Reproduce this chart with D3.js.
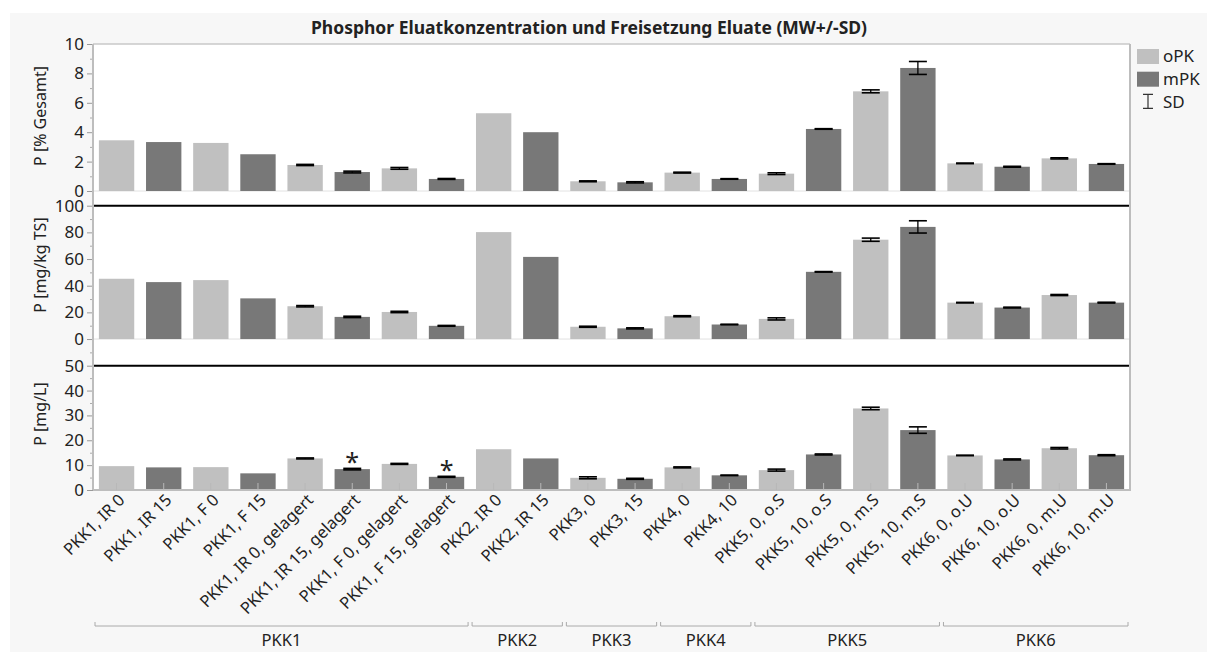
<!DOCTYPE html>
<html><head><meta charset="utf-8">
<script src="https://cdn.jsdelivr.net/npm/d3@7"></script>
<style>
html,body{margin:0;padding:0;background:#fff;}
text{font-family:"Noto Sans","Open Sans",sans-serif;fill:#222;}
</style></head>
<body>
<svg id="c" width="1207" height="660"></svg>
<script>
// ---------- data ----------
const categories = ["PKK1, IR 0","PKK1, IR 15","PKK1, F 0","PKK1, F 15","PKK1, IR 0, gelagert","PKK1, IR 15, gelagert","PKK1, F 0, gelagert","PKK1, F 15, gelagert","PKK2, IR 0","PKK2, IR 15","PKK3, 0","PKK3, 15","PKK4, 0","PKK4, 10","PKK5, 0, o.S","PKK5, 10, o.S","PKK5, 0, m.S","PKK5, 10, m.S","PKK6, 0, o.U","PKK6, 10, o.U","PKK6, 0, m.U","PKK6, 10, m.U"];
const series = ["oPK","mPK","oPK","mPK","oPK","mPK","oPK","mPK","oPK","mPK","oPK","mPK","oPK","mPK","oPK","mPK","oPK","mPK","oPK","mPK","oPK","mPK"];
const groups = ["PKK1","PKK2","PKK3","PKK4","PKK5","PKK6"];

const pctGesamt   = [3.45,3.33,3.27,2.5,1.77,1.29,1.54,0.82,5.29,4.0,0.66,0.59,1.25,0.82,1.18,4.22,6.78,8.37,1.88,1.65,2.22,1.84];
const pctGesamtSD = [null,null,null,null,0.04,0.06,0.06,0.03,null,null,0.03,0.04,0.03,0.02,0.06,0.02,0.10,0.44,0.02,0.03,0.04,0.02];
const mgKgTS      = [45.2,42.7,44.2,30.5,24.6,16.6,20.3,9.9,80.2,61.6,9.2,8.0,17.1,10.9,15.1,50.4,74.5,84.1,27.3,23.6,33.0,27.3];
const mgKgTSSD    = [null,null,null,null,0.5,0.5,0.5,0.3,null,null,0.4,0.4,0.4,0.2,0.8,0.2,1.2,4.6,0.2,0.3,0.4,0.3];
const mgL         = [9.6,9.1,9.2,6.7,12.7,8.4,10.5,5.3,16.4,12.7,4.9,4.5,9.1,5.9,8.0,14.3,32.8,24.1,13.9,12.3,16.8,14.0];
const mgLSD       = [null,null,null,null,0.2,0.3,0.2,0.2,null,null,0.4,0.2,0.2,0.1,0.4,0.2,0.5,1.3,0.1,0.2,0.3,0.2];
const starred     = ["PKK1, IR 15, gelagert","PKK1, F 15, gelagert"];

const title = "Phosphor Eluatkonzentration und Freisetzung Eluate (MW+/-SD)";
const panelTitles = ["P [% Gesamt]","P [mg/kg TS]","P [mg/L]"];
const panelDomains = [[-1,10],[-20,100],[0,50]];
const majorTicks = [[0,2,4,6,8,10],[0,20,40,60,80,100],[0,10,20,30,40,50]];
const minorTicks = [[1,3,5,7,9],[-10,10,30,50,70,90],[5,15,25,35,45]];
const legendItems = ["oPK","mPK","SD"];

// ---------- layout ----------
const W = 1207, H = 660;
const L = 93, R = 1130, T = 44;
const panelY = [[44,205.7],[205.7,365.7],[365.7,490]];
const titleY = [116,265,414];
const colors = {oPK:"#c0c0c0", mPK:"#787878"};

const svg = d3.select("#c");
svg.append("rect").attr("x",10).attr("y",13).attr("width",W-10).attr("height",652-13).attr("fill","#f7f7f7");
svg.append("rect").attr("x",L).attr("y",T).attr("width",R-L).attr("height",490-T).attr("fill","#fff");

svg.append("text").attr("x",589).attr("y",34).attr("text-anchor","middle")
  .attr("font-size",17.5).attr("font-weight","bold").text(title);

const x = d3.scaleBand().domain(categories).range([L,R]).paddingInner(0.25).paddingOuter(0.125);

const valuesArr = [pctGesamt, mgKgTS, mgL];
const sdArr = [pctGesamtSD, mgKgTSSD, mgLSD];

panelY.forEach((py,pi)=>{
  const y = d3.scaleLinear().domain(panelDomains[pi]).range([py[1],py[0]]);
  const g = svg.append("g");
  if (panelDomains[pi][0] < 0) {
    g.append("line").attr("x1",L).attr("x2",R).attr("y1",y(0)).attr("y2",y(0)).attr("stroke","#e2e2e2").attr("stroke-width",1);
  }
  const vals = valuesArr[pi], sds = sdArr[pi];
  const data = categories.map((c,i)=>({c, s:series[i], v:vals[i], sd:sds[i]}));
  g.selectAll("rect.bar").data(data).join("rect").attr("class","bar")
    .attr("x",d=>x(d.c)).attr("width",x.bandwidth())
    .attr("y",d=>y(d.v)).attr("height",d=>y(0)-y(d.v))
    .attr("fill",d=>colors[d.s]);
  const eb = data.filter(d=>d.sd!=null);
  const cw = 9;
  g.selectAll("line.ev").data(eb).join("line").attr("class","ev")
    .attr("x1",d=>x(d.c)+x.bandwidth()/2).attr("x2",d=>x(d.c)+x.bandwidth()/2)
    .attr("y1",d=>y(d.v-d.sd)).attr("y2",d=>y(d.v+d.sd)).attr("stroke","#000").attr("stroke-width",1.3);
  ["top","bot"].forEach(k=>{
    g.selectAll("line.cap"+k).data(eb).join("line").attr("class","cap"+k)
      .attr("x1",d=>x(d.c)+x.bandwidth()/2-cw).attr("x2",d=>x(d.c)+x.bandwidth()/2+cw)
      .attr("y1",d=>y(k==="top"?d.v+d.sd:d.v-d.sd)).attr("y2",d=>y(k==="top"?d.v+d.sd:d.v-d.sd))
      .attr("stroke","#000").attr("stroke-width",1.6);
  });
  if (pi===2) {
    g.selectAll("text.star").data(data.filter(d=>starred.includes(d.c))).join("text").attr("class","star")
      .attr("x",d=>x(d.c)+x.bandwidth()/2).attr("y",d=>y(d.v+(d.sd||0))+3)
      .attr("text-anchor","middle").attr("font-size",25).text("*");
  }
  const ax = d3.axisLeft(y).tickValues(majorTicks[pi]).tickSize(6).tickPadding(3).tickFormat(d3.format("d"));
  const ag = svg.append("g").attr("transform",`translate(${L},0)`).call(ax);
  ag.select(".domain").remove();
  ag.selectAll(".tick line").attr("stroke","#999");
  ag.selectAll(".tick text").attr("font-size",17).attr("fill","#222").style("font-family","'Noto Sans',sans-serif");
  const mx = d3.axisLeft(y).tickValues(minorTicks[pi]).tickSize(3).tickFormat("");
  const mg = svg.append("g").attr("transform",`translate(${L},0)`).call(mx);
  mg.select(".domain").remove();
  mg.selectAll(".tick line").attr("stroke","#aaa");
  svg.append("text").attr("transform",`translate(40,${titleY[pi]}) rotate(-90)`)
    .attr("text-anchor","middle").attr("dy","0.35em").attr("font-size",16).text(panelTitles[pi]);
});

[205.7,365.7].forEach(yy=>{
  svg.append("line").attr("x1",L).attr("x2",R).attr("y1",yy).attr("y2",yy).attr("stroke","#000").attr("stroke-width",2);
});
svg.append("line").attr("x1",L).attr("x2",R).attr("y1",T).attr("y2",T).attr("stroke","#c8c8c8").attr("stroke-width",1.5);
svg.append("line").attr("x1",R).attr("x2",R).attr("y1",T).attr("y2",490).attr("stroke","#bdbdbd").attr("stroke-width",2);
svg.append("line").attr("x1",L).attr("x2",L).attr("y1",T).attr("y2",490).attr("stroke","#bdbdbd").attr("stroke-width",2);
svg.append("line").attr("x1",L).attr("x2",R+1).attr("y1",490).attr("y2",490).attr("stroke","#bdbdbd").attr("stroke-width",2);

const xg = svg.append("g");
xg.selectAll("line").data(categories).join("line")
  .attr("x1",d=>x(d)+x.bandwidth()/2).attr("x2",d=>x(d)+x.bandwidth()/2)
  .attr("y1",483).attr("y2",490).attr("stroke","#b8b8b8").attr("stroke-width",1);
xg.selectAll("text").data(categories).join("text")
  .attr("transform",d=>`translate(${x(d)+x.bandwidth()/2+5},497) rotate(-45)`)
  .attr("text-anchor","end").attr("dy","0.35em").attr("font-size",16.5).text(d=>d);

groups.forEach(gname=>{
  const cats = categories.filter(c=>c.split(",")[0]===gname);
  const x0 = x(cats[0]) - x.step()*x.paddingInner()/2 + 2;
  const x1 = x(cats[cats.length-1]) + x.bandwidth() + x.step()*x.paddingInner()/2 - 2;
  svg.append("path").attr("d",`M${x0},622V626H${x1}V622`).attr("fill","none").attr("stroke","#aaa").attr("stroke-width",1);
  svg.append("text").attr("x",(x0+x1)/2).attr("y",646).attr("text-anchor","middle").attr("font-size",16.5).text(gname);
});

const lg = svg.append("g");
legendItems.forEach((k,i)=>{
  const yy = 49 + i*22.7;
  if (k==="SD") {
    const cx = 1148;
    lg.append("path").attr("d",`M${cx-5},${yy}H${cx+5}M${cx},${yy}V${yy+14}M${cx-5},${yy+14}H${cx+5}`)
      .attr("stroke","#333").attr("stroke-width",1.2).attr("fill","none");
  } else {
    lg.append("rect").attr("x",1137).attr("y",yy).attr("width",22).attr("height",15).attr("fill",colors[k]);
  }
  lg.append("text").attr("x",1163).attr("y",yy+7.5).attr("dy","0.35em").attr("font-size",17).text(k);
});
</script>
</body></html>
